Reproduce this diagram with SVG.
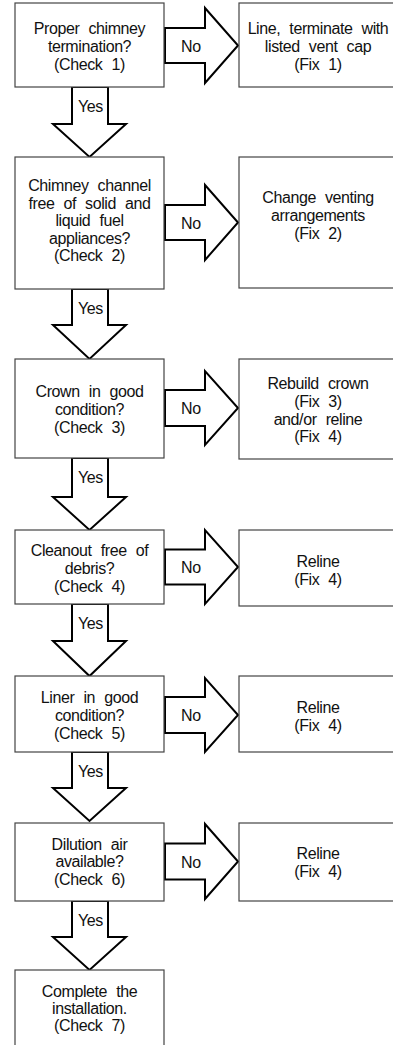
<svg xmlns="http://www.w3.org/2000/svg" width="393" height="1045" viewBox="0 0 393 1045">
<style>
.box{fill:#fff;stroke:#444;stroke-width:1.2}
.arr{fill:#fff;stroke:#000;stroke-width:2;stroke-linejoin:miter}
text{font-family:"Liberation Sans",Arial,sans-serif;font-size:16px;fill:#111;letter-spacing:-0.4px;word-spacing:5px}
.c{text-anchor:middle}
</style>
<rect width="393" height="1045" fill="#fff"/>
<g id="connectors">
<polygon class="arr" points="165,28 205,28 205,8 238,45.5 205,83 205,63 165,63"/>
<polygon class="arr" points="72,87 108,87 108,124 126,124 89.5,157 53,124 72,124"/>
<polygon class="arr" points="165,205 205,205 205,185 238,222.5 205,260 205,240 165,240"/>
<polygon class="arr" points="72,289 108,289 108,325 126,325 89.5,359 53,325 72,325"/>
<polygon class="arr" points="165,390 205,390 205,371 238,408 205,445 205,426 165,426"/>
<polygon class="arr" points="72,458 108,458 108,497 126,497 89.5,530 53,497 72,497"/>
<polygon class="arr" points="165,549.5 205,549.5 205,530 238,567 205,604 205,584.5 165,584.5"/>
<polygon class="arr" points="72,604 108,604 108,641 126,641 89.5,676 53,641 72,641"/>
<polygon class="arr" points="165,697 205,697 205,678 238,715 205,752 205,733 165,733"/>
<polygon class="arr" points="72,752 108,752 108,788 126,788 89.5,821 53,788 72,788"/>
<polygon class="arr" points="165,843.5 205,843.5 205,824 238,861.5 205,899 205,879.5 165,879.5"/>
<polygon class="arr" points="72,901 108,901 108,937 126,937 89.5,970 53,937 72,937"/>
<text x="181" y="51.5">No</text>
<text x="181" y="228.5">No</text>
<text x="181" y="414">No</text>
<text x="181" y="573">No</text>
<text x="181" y="721">No</text>
<text x="181" y="867.5">No</text>
<text x="78" y="111.5">Yes</text>
<text x="78" y="314">Yes</text>
<text x="78" y="483">Yes</text>
<text x="78" y="629">Yes</text>
<text x="78" y="776.5">Yes</text>
<text x="78" y="925.5">Yes</text>
</g>
<g id="check1"><rect class="box" x="15" y="3" width="149" height="84"/>
<text class="c" x="89.5" y="33.5">Proper chimney</text><text class="c" x="89.5" y="51.5">termination?</text><text class="c" x="89.5" y="69.5">(Check 1)</text></g>
<g id="fix1"><rect class="box" x="239" y="3" width="170" height="84"/>
<text class="c" x="318" y="33.5">Line, terminate with</text><text class="c" x="318" y="51.5">listed vent cap</text><text class="c" x="318" y="69.5">(Fix 1)</text></g>
<g id="check2"><rect class="box" x="15" y="157" width="149" height="132"/>
<text class="c" x="89.5" y="191">Chimney channel</text><text class="c" x="89.5" y="208.5">free of solid and</text><text class="c" x="89.5" y="226">liquid fuel</text><text class="c" x="89.5" y="243.5">appliances?</text><text class="c" x="89.5" y="261">(Check 2)</text></g>
<g id="fix2"><rect class="box" x="239" y="157" width="170" height="131"/>
<text class="c" x="318" y="203">Change venting</text><text class="c" x="318" y="221">arrangements</text><text class="c" x="318" y="239">(Fix 2)</text></g>
<g id="check3"><rect class="box" x="15" y="359" width="149" height="99"/>
<text class="c" x="89.5" y="397">Crown in good</text><text class="c" x="89.5" y="415">condition?</text><text class="c" x="89.5" y="433">(Check 3)</text></g>
<g id="fix3"><rect class="box" x="239" y="359" width="170" height="100"/>
<text class="c" x="318" y="389">Rebuild crown</text><text class="c" x="318" y="407">(Fix 3)</text><text class="c" x="318" y="424.5">and/or reline</text><text class="c" x="318" y="442">(Fix 4)</text></g>
<g id="check4"><rect class="box" x="15" y="530" width="149" height="74"/>
<text class="c" x="89.5" y="556">Cleanout free of</text><text class="c" x="89.5" y="574">debris?</text><text class="c" x="89.5" y="592">(Check 4)</text></g>
<g id="fix4"><rect class="box" x="239" y="530" width="170" height="76"/>
<text class="c" x="318" y="567">Reline</text><text class="c" x="318" y="585">(Fix 4)</text></g>
<g id="check5"><rect class="box" x="15" y="676" width="149" height="76"/>
<text class="c" x="89.5" y="703">Liner in good</text><text class="c" x="89.5" y="721">condition?</text><text class="c" x="89.5" y="739">(Check 5)</text></g>
<g id="fix5"><rect class="box" x="239" y="676" width="170" height="76"/>
<text class="c" x="318" y="713">Reline</text><text class="c" x="318" y="731">(Fix 4)</text></g>
<g id="check6"><rect class="box" x="15" y="823" width="149" height="78"/>
<text class="c" x="89.5" y="849.5">Dilution air</text><text class="c" x="89.5" y="867">available?</text><text class="c" x="89.5" y="885">(Check 6)</text></g>
<g id="fix6"><rect class="box" x="239" y="823" width="170" height="78"/>
<text class="c" x="318" y="859">Reline</text><text class="c" x="318" y="877">(Fix 4)</text></g>
<g id="check7"><rect class="box" x="15" y="970" width="149" height="90"/>
<text class="c" x="89.5" y="997">Complete the</text><text class="c" x="89.5" y="1014">installation.</text><text class="c" x="89.5" y="1031">(Check 7)</text></g>
</svg>
